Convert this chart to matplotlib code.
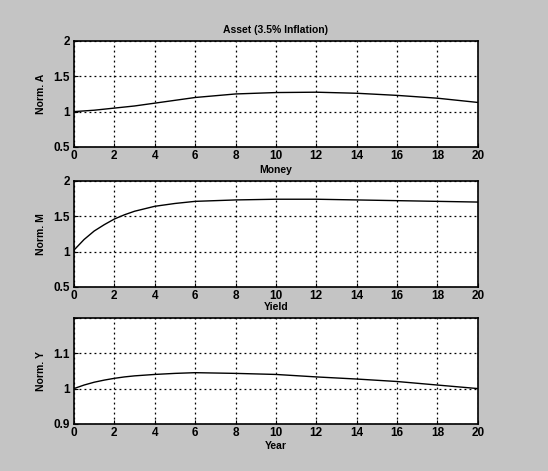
import numpy as np
import matplotlib
matplotlib.use("Agg")
import matplotlib.pyplot as plt

# values
year = [0, 0.5, 1, 1.5, 2, 2.5, 3, 4, 5, 6, 8, 10, 12, 14, 16, 18, 20]
asset = [1.00, 1.01, 1.02, 1.035, 1.05, 1.065, 1.08, 1.12, 1.16, 1.20, 1.25, 1.27, 1.275,
         1.26, 1.23, 1.19, 1.13]
money = [1.02, 1.17, 1.29, 1.38, 1.46, 1.52, 1.57, 1.64, 1.68, 1.71, 1.73, 1.74, 1.74,
         1.73, 1.72, 1.71, 1.70]
yld = [1.000, 1.010, 1.018, 1.024, 1.029, 1.033, 1.036, 1.040, 1.043, 1.045, 1.043, 1.040,
       1.033, 1.027, 1.020, 1.010, 1.000]

xticks = list(range(0, 21, 2))
panels = [
    ("Asset (3.5% Inflation)", "Norm. A", asset, (0.5, 2.0), [0.5, 1, 1.5, 2], ["0.5", "1", "1.5", "2"]),
    ("Money", "Norm. M", money, (0.5, 2.0), [0.5, 1, 1.5, 2], ["0.5", "1", "1.5", "2"]),
    ("Yield", "Norm. Y", yld, (0.9, 1.2), [0.9, 1.0, 1.1, 1.2], ["0.9", "1", "1.1", ""]),
]
bottoms = [0.688, 0.391, 0.100]

plt.rcParams["font.family"] = ["Liberation Sans", "DejaVu Sans"]
plt.rcParams["font.weight"] = "bold"

fig = plt.figure(figsize=(5.48, 4.71), dpi=100, facecolor="#c4c4c4")
for (title, ylab, vals, ylim, yt, ytl), b in zip(panels, bottoms):
    ax = fig.add_axes([0.135, b, 0.737, 0.225])
    ax.plot(year, vals, color="black", lw=1.0)
    ax.set_xlim(0, 20)
    ax.set_ylim(*ylim)
    ax.set_xticks(xticks)
    ax.set_yticks(yt)
    ax.set_yticklabels(ytl)
    ax.grid(True, color="black", linestyle=(0, (1.5, 2.5)), lw=0.9)
    ax.tick_params(direction="in", labelsize=8.5, length=3)
    ax.tick_params(axis="x", pad=2)
    ax.tick_params(axis="y", pad=3)
    ax.set_title(title, fontsize=7.5, fontweight="bold", pad=6)
    ax.set_ylabel(ylab, fontsize=7.5, fontweight="bold", labelpad=5)
    for s in ax.spines.values():
        s.set_linewidth(1.2)
    if b == bottoms[-1]:
        ax.set_xlabel("Year", fontsize=7.5, fontweight="bold", labelpad=2)

fig.savefig("out.png", dpi=100, facecolor=fig.get_facecolor())
